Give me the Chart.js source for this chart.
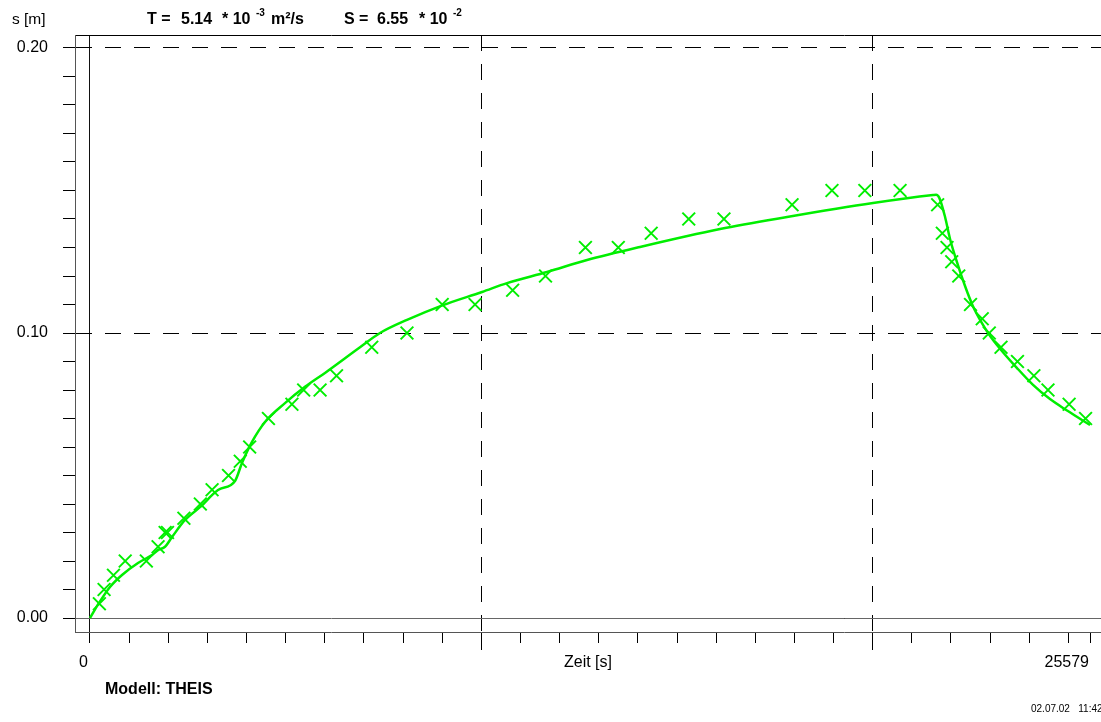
<!DOCTYPE html>
<html>
<head>
<meta charset="utf-8">
<script src="https://cdn.jsdelivr.net/npm/chart.js@4.4.0/dist/chart.umd.min.js"></script>
<style>
body { margin: 0; background: #fff; font-family: "Liberation Sans", Arial, sans-serif; }
#box { position: relative; width: 1101px; height: 722px; overflow: hidden; }
.t { position: absolute; white-space: pre; color: #000; line-height: 1; }
.h { font-size: 16px; font-weight: bold; top: 11px; }
.s { font-size: 10px; font-weight: bold; top: 8px; }
</style>
</head>
<body>
<div id="box">
  <canvas id="Chart_1"></canvas>
  <div class="t" style="left:12px;top:11px;font-size:15.5px">s [m]</div>
  <div class="t h" style="left:147px">T =</div>
  <div class="t h" style="left:181px">5.14</div>
  <div class="t h" style="left:222px">* 10</div>
  <div class="t s" style="left:256px">-3</div>
  <div class="t h" style="left:271px">m²/s</div>
  <div class="t h" style="left:344px">S =</div>
  <div class="t h" style="left:377px">6.55</div>
  <div class="t h" style="left:419px">* 10</div>
  <div class="t s" style="left:453px">-2</div>
  <div class="t" style="left:105px;top:681px;font-size:16px;font-weight:bold">Modell: THEIS</div>
  <div class="t" style="left:1031px;top:704px;font-size:10px">02.07.02   11:42</div>
</div>
<script>
// measured drawdown (crosses)
var measTime = [240, 360, 600, 900, 1440, 1740, 1920, 1980, 2400, 2820, 3120, 3540, 3840, 4080, 4560, 5160,
    5460, 5880, 6300, 7200, 8100, 9000, 9840, 10800, 11640, 12660, 13500, 14340, 15300, 16200, 17940, 18960,
    19800, 20700, 21660, 21780, 21900, 22020, 22200, 22500, 22800, 22980, 23280, 23700, 24120, 24480, 25020, 25440];
var measDraw = [0.005, 0.010, 0.015, 0.020, 0.020, 0.025, 0.030, 0.030, 0.035, 0.040, 0.045, 0.050, 0.055, 0.060, 0.070, 0.075,
    0.080, 0.080, 0.085, 0.095, 0.100, 0.110, 0.110, 0.115, 0.120, 0.130, 0.130, 0.135, 0.140, 0.140, 0.145, 0.150,
    0.150, 0.150, 0.145, 0.135, 0.130, 0.125, 0.120, 0.110, 0.105, 0.100, 0.095, 0.090, 0.085, 0.080, 0.075, 0.070];

// THEIS model curve
var modelTime = [0, 230, 511, 818, 1227, 1584, 1746, 1917, 2096, 2428, 2811, 3271, 3706, 3884, 4140, 4472, 4983,
    5494, 6005, 6900, 7411, 8101, 9021, 10018, 10656, 11679, 12701, 14055, 16100, 17812, 20010, 21543, 21620,
    21700, 21850, 21977, 22156, 22360, 22560, 22770, 22974, 23255, 23689, 24098, 24532, 24967, 25555];
var modelDraw = [0, 0.0053, 0.0109, 0.0151, 0.0193, 0.0221, 0.0239, 0.0250, 0.0284, 0.0344, 0.0389, 0.0449, 0.0481, 0.0544, 0.0618, 0.0688, 0.0754,
    0.0811, 0.0860, 0.0950, 0.1000, 0.1046, 0.1098, 0.1144, 0.1175, 0.1214, 0.1256, 0.1302, 0.1365, 0.1407, 0.1456, 0.1484, 0.1485,
    0.1475, 0.1407, 0.1330, 0.1248, 0.1165, 0.1095, 0.1040, 0.0995, 0.0945, 0.0877, 0.0818, 0.0768, 0.0728, 0.0677];

// axis ticks
var timeTicks = [0, 1000, 2000, 3000, 4000, 5000, 6000, 7000, 8000, 9000, 10000, 11000, 12000, 13000,
    14000, 15000, 16000, 17000, 18000, 19000, 20000, 21000, 22000, 23000, 24000, 25000, 25579];
var timeLabels = [0, 25579];
var timeGrid = [10000, 20000];
var drawTicks = [0, 0.01, 0.02, 0.03, 0.04, 0.05, 0.06, 0.07, 0.08, 0.09, 0.10,
    0.11, 0.12, 0.13, 0.14, 0.15, 0.16, 0.17, 0.18, 0.19, 0.20];
var drawLabels = [0, 0.10, 0.20];
var drawGrid = [0, 0.10, 0.20];

var xMin = -383, xMax = 25834;
var yMin = -0.00491, yMax = 0.20456;
var green = '#00ee00';
var fontFam = '"Liberation Sans", Arial, sans-serif';

function setTicks(vals) {
    return function (axis) { axis.ticks = vals.map(function (v) { return { value: v }; }); };
}
function fixW(w) { return function (axis) { axis.width = w; }; }
function fixH(h) { return function (axis) { axis.height = h; }; }
function has(list, v) {
    return list.some(function (a) { return Math.abs(a - v) < 1e-9; });
}

var ctx = document.getElementById('Chart_1');
var chart = new Chart(ctx, {
    type: 'scatter',
    data: {
        datasets: [{
            type: 'line',
            label: 'THEIS',
            data: modelTime.map(function (t, i) { return { x: t, y: modelDraw[i] }; }),
            borderColor: green,
            borderWidth: 2.5,
            pointRadius: 0,
            cubicInterpolationMode: 'monotone'
        }, {
            label: 'Messwerte',
            data: measTime.map(function (t, i) { return { x: t, y: measDraw[i] }; }),
            pointStyle: 'crossRot',
            pointRadius: 9,
            borderColor: green,
            backgroundColor: green,
            borderWidth: 2
        }]
    },
    options: {
        responsive: true,
        maintainAspectRatio: false,
        animation: false,
        layout: { autoPadding: false, padding: { top: 35, left: 0, right: 0, bottom: 0 } },
        plugins: { legend: { display: false }, tooltip: { enabled: false } },
        scales: {
            x: {
                type: 'linear', position: 'bottom', min: xMin, max: xMax, bounds: 'data', weight: 1,
                afterBuildTicks: setTicks(timeTicks),
                afterFit: fixH(90),
                grid: { drawOnChartArea: false, tickLength: 11, tickColor: '#000', color: '#000' },
                border: { display: true, color: '#555', width: 1 },
                ticks: {
                    autoSkip: false, maxRotation: 0, align: 'end', padding: 10, labelOffset: -2,
                    color: '#000', font: { size: 16, family: fontFam },
                    callback: function (v) { return has(timeLabels, v) ? String(v) : ''; }
                },
                title: {
                    display: true, text: 'Zeit [s]', color: '#000',
                    font: { size: 16, family: fontFam },
                    padding: { top: 0, bottom: 50 }
                }
            },
            xg: {
                type: 'linear', position: 'bottom', min: xMin, max: xMax, bounds: 'data', weight: 0,
                afterBuildTicks: setTicks(timeGrid),
                afterFit: fixH(0),
                grid: { color: '#000', lineWidth: 1, tickLength: 18, tickColor: '#000' },
                border: { display: false, dash: [16, 13] },
                ticks: { display: false }
            },
            xz: {
                type: 'linear', position: 'bottom', min: xMin, max: xMax, bounds: 'data', weight: 0,
                afterBuildTicks: setTicks([0]),
                afterFit: fixH(0),
                grid: { color: '#111', lineWidth: 1, drawTicks: false },
                border: { display: false },
                ticks: { display: false }
            },
            xt: {
                type: 'linear', position: 'top', min: xMin, max: xMax, bounds: 'data',
                afterBuildTicks: setTicks([0]),
                afterFit: fixH(0),
                grid: { display: false },
                border: { display: true, color: '#000', width: 1 },
                ticks: { display: false }
            },
            y: {
                type: 'linear', position: 'left', min: yMin, max: yMax, bounds: 'data', weight: 1,
                afterBuildTicks: setTicks(drawTicks),
                afterFit: fixW(75),
                grid: {
                    color: function (c) { return has(drawGrid, c.tick.value) ? '#000' : 'rgba(0,0,0,0)'; },
                    tickLength: 12, tickColor: '#000'
                },
                border: { display: true, color: '#555', width: 1, dash: [16, 13] },
                ticks: {
                    padding: 15, color: '#000', font: { size: 16, family: fontFam },
                    callback: function (v) { return has(drawLabels, v) ? v.toFixed(2) : ''; }
                }
            },
            yz: {
                type: 'linear', position: 'left', min: yMin, max: yMax, bounds: 'data', weight: 0,
                afterBuildTicks: setTicks([0]),
                afterFit: fixW(0),
                grid: { color: '#666', lineWidth: 1, drawTicks: false },
                border: { display: false },
                ticks: { display: false }
            }
        }
    }
});
</script>
</body>
</html>
